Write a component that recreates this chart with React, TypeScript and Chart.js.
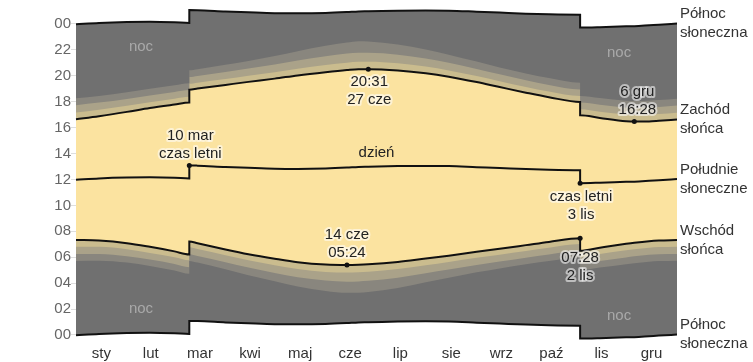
import React, { useEffect, useRef } from 'react';
import { Chart, registerables } from 'chart.js';
Chart.register(...registerables);

// ---- data (New York, 2024; local clock time) ----
const MONTHS = ['sty', 'lut', 'mar', 'kwi', 'maj', 'cze', 'lip', 'sie', 'wrz', 'paź', 'lis', 'gru'];
const MONTH_STARTS = [0, 31, 60, 91, 121, 152, 182, 213, 244, 274, 305, 335, 366];
const Y_TICKS = [0, 2, 4, 6, 8, 10, 12, 14, 16, 18, 20, 22, 24];

// day of year (0 = 1 Jan); 69 and 307 appear twice (clock change)
const DAY = [0, 14, 31, 45, 60, 69, 69, 74, 91, 105, 121, 135, 152, 165, 172, 178, 196, 213, 227, 244, 258, 274, 288, 307, 307, 319, 335, 340, 349, 355, 366];

const MIDNIGHT_LOW = [-0.02, 0.08, 0.15, 0.17, 0.13, 0.08, 1.08, 1.07, 0.97, 0.9, 0.83, 0.82, 0.85, 0.92, 0.97, 0.98, 1.03, 1.05, 1.03, 0.95, 0.88, 0.8, 0.75, 0.72, -0.28, -0.25, -0.18, -0.17, -0.1, -0.05, 0.03];
const ASTRO_DAWN = ['05:43', '05:44', '05:35', '05:19', '04:58', '04:43', '05:43', '05:35', '05:04', '04:37', '04:09', '03:45', '03:24', '03:15', '03:15', '03:19', '03:38', '04:04', '04:25', '04:50', '05:08', '05:27', '05:42', '05:59', '05:00', '05:12', '05:28', '05:32', '05:39', '05:42', '05:44'];
const NAUT_DAWN = ['06:15', '06:15', '06:05', '05:49', '05:29', '05:14', '06:14', '06:06', '05:37', '05:12', '04:47', '04:27', '04:12', '04:07', '04:08', '04:11', '04:25', '04:46', '05:03', '05:24', '05:40', '05:58', '06:13', '06:30', '05:31', '05:43', '05:59', '06:04', '06:11', '06:14', '06:15'];
const CIVIL_DAWN = ['06:49', '06:48', '06:37', '06:20', '06:00', '05:46', '06:46', '06:38', '06:09', '05:46', '05:23', '05:06', '04:52', '04:49', '04:50', '04:53', '05:05', '05:23', '05:38', '05:57', '06:12', '06:29', '06:44', '07:01', '06:02', '06:15', '06:32', '06:37', '06:44', '06:47', '06:49'];
const SUNRISE = ['07:20', '07:17', '07:05', '06:48', '06:27', '06:13', '07:13', '07:05', '06:36', '06:14', '05:53', '05:37', '05:26', '05:24', '05:25', '05:27', '05:38', '05:54', '06:07', '06:25', '06:39', '06:56', '07:11', '07:28', '06:30', '06:44', '07:02', '07:07', '07:14', '07:17', '07:20'];
const SOLAR_NOON = ['11:59', '12:05', '12:09', '12:10', '12:08', '12:05', '13:05', '13:04', '12:58', '12:54', '12:50', '12:49', '12:51', '12:55', '12:58', '12:59', '13:02', '13:03', '13:02', '12:57', '12:53', '12:48', '12:45', '12:43', '11:43', '11:45', '11:49', '11:50', '11:54', '11:57', '12:02'];
const SUNSET = ['16:39', '16:53', '17:13', '17:31', '17:47', '17:56', '18:56', '19:01', '19:18', '19:32', '19:47', '20:02', '20:17', '20:27', '20:31', '20:31', '20:25', '20:12', '19:56', '19:31', '19:08', '18:42', '18:21', '17:59', '16:57', '16:45', '16:30', '16:28', '16:29', '16:32', '16:38'];
const CIVIL_DUSK = ['17:10', '17:23', '17:41', '17:58', '18:14', '18:23', '19:23', '19:28', '19:45', '20:00', '20:17', '20:33', '20:50', '21:01', '21:05', '21:05', '20:58', '20:43', '20:25', '19:59', '19:35', '19:08', '18:47', '18:26', '17:25', '17:14', '17:01', '16:59', '17:00', '17:03', '17:09'];
const NAUT_DUSK = ['17:44', '17:56', '18:13', '18:29', '18:45', '18:54', '19:54', '19:59', '20:18', '20:34', '20:53', '21:11', '21:31', '21:43', '21:47', '21:47', '21:38', '21:20', '21:00', '20:32', '20:07', '19:40', '19:18', '18:57', '17:56', '17:46', '17:33', '17:32', '17:34', '17:36', '17:43'];
const ASTRO_DUSK = ['18:16', '18:27', '18:44', '19:00', '19:16', '19:26', '20:26', '20:31', '20:51', '21:09', '21:32', '21:54', '22:19', '22:34', '22:40', '22:39', '22:25', '22:02', '21:38', '21:06', '20:39', '20:11', '19:50', '19:28', '18:27', '18:17', '18:05', '18:03', '18:05', '18:08', '18:14'];
const MIDNIGHT_HIGH = [23.98, 24.08, 24.15, 24.17, 24.13, 24.08, 25.08, 25.07, 24.97, 24.9, 24.83, 24.82, 24.85, 24.92, 24.97, 24.98, 25.03, 25.05, 25.03, 24.95, 24.88, 24.8, 24.75, 24.72, 23.72, 23.75, 23.82, 23.83, 23.9, 23.95, 24.03];

// ---- styling ----
const FONT = '"Liberation Sans", Arial, sans-serif';
const C_NIGHT = '#707070';
const C_ASTRO = '#89867e';
const C_NAUT = '#aaa289';
const C_CIVIL = '#cabc8e';
const C_DAY = '#fbe3a0';
const C_WHITE = '#ffffff';
const C_LINE = '#111111';
const GRID = 'rgba(0,0,0,0.13)';

const toH = (s: string) => {
  const [h, m] = s.split(':').map(Number);
  return h + m / 60;
};
const series = (vals: number[]) => DAY.map((d, i) => ({ x: d, y: vals[i] }));

const S = {
  low: MIDNIGHT_LOW,
  astroDawn: ASTRO_DAWN.map(toH),
  nautDawn: NAUT_DAWN.map(toH),
  civilDawn: CIVIL_DAWN.map(toH),
  sunrise: SUNRISE.map(toH),
  noon: SOLAR_NOON.map(toH),
  sunset: SUNSET.map(toH),
  civilDusk: CIVIL_DUSK.map(toH),
  nautDusk: NAUT_DUSK.map(toH),
  astroDusk: ASTRO_DUSK.map(toH),
  high: MIDNIGHT_HIGH,
};

// annotated points: [series key, index in DAY]
const MARKS: { key: keyof typeof S; i: number; lines: string[]; dy: number[]; dx: number }[] = [
  { key: 'noon', i: 6, lines: ['10 mar', 'czas letni'], dy: [-30, -12], dx: 1 },
  { key: 'sunset', i: 15, lines: ['20:31', '27 cze'], dy: [13, 31], dx: 1 },
  { key: 'sunrise', i: 13, lines: ['14 cze', '05:24'], dy: [-30, -12], dx: 0 },
  { key: 'sunset', i: 27, lines: ['6 gru', '16:28'], dy: [-30, -12], dx: 3 },
  { key: 'sunrise', i: 23, lines: ['07:28', '2 lis'], dy: [20, 38], dx: 0 },
  { key: 'noon', i: 24, lines: ['czas letni', '3 lis'], dy: [14, 32], dx: 1 },
];
const FREE_TEXT: { t: string; day: number; h: number; color: string }[] = [
  { t: 'noc', day: 39.6, h: 22.26, color: '#a9a9a9' },
  { t: 'noc', day: 39.6, h: 2.0, color: '#a9a9a9' },
  { t: 'noc', day: 330.7, h: 21.76, color: '#a9a9a9' },
  { t: 'noc', day: 330.7, h: 1.47, color: '#a9a9a9' },
  { t: 'dzień', day: 183, h: 14.04, color: '#222222' },
];
const RIGHT_LABELS: { key: keyof typeof S; lines: string[] }[] = [
  { key: 'high', lines: ['Północ', 'słoneczna'] },
  { key: 'sunset', lines: ['Zachód', 'słońca'] },
  { key: 'noon', lines: ['Południe', 'słoneczne'] },
  { key: 'sunrise', lines: ['Wschód', 'słońca'] },
  { key: 'low', lines: ['Północ', 'słoneczna'] },
];

const overlay = {
  id: 'overlay',
  afterDraw(chart: any) {
    const { ctx, scales } = chart;
    const x = scales.x;
    const y = scales.y;
    ctx.save();
    ctx.font = `15px ${FONT}`;
    ctx.textBaseline = 'middle';
    ctx.textAlign = 'center';
    for (const f of FREE_TEXT) {
      ctx.fillStyle = f.color;
      ctx.fillText(f.t, x.getPixelForValue(f.day), y.getPixelForValue(f.h));
    }
    ctx.lineJoin = 'round';
    for (const m of MARKS) {
      const px = x.getPixelForValue(DAY[m.i]) + m.dx;
      const py = y.getPixelForValue(S[m.key][m.i]);
      m.lines.forEach((t, k) => {
        ctx.strokeStyle = 'rgba(255,255,255,0.55)';
        ctx.lineWidth = 4;
        ctx.strokeText(t, px, py + m.dy[k]);
        ctx.fillStyle = '#222222';
        ctx.fillText(t, px, py + m.dy[k]);
      });
    }
    ctx.textAlign = 'left';
    ctx.fillStyle = '#333333';
    const last = DAY.length - 1;
    for (const r of RIGHT_LABELS) {
      const py = y.getPixelForValue(S[r.key][last]);
      ctx.fillText(r.lines[0], chart.chartArea.right + 3, py - 9.5);
      ctx.fillText(r.lines[1], chart.chartArea.right + 3, py + 9.5);
    }
    ctx.restore();
  },
};

export default function App() {
  const ref = useRef<HTMLCanvasElement>(null);
  useEffect(() => {
    if (!ref.current) return;
    Chart.defaults.font.family = FONT;
    // each band is painted as a layer filled to the top ('end') or bottom ('start');
    // the filler paints higher dataset indexes first, so layers are listed top-most first
    const layer = (label: string, vals: number[], fill: string | false, bg: string | null, border: boolean) => ({
      type: 'line' as const,
      label,
      data: series(vals),
      borderColor: border ? C_LINE : 'rgba(0,0,0,0)',
      borderWidth: border ? 2 : 0,
      backgroundColor: bg || 'rgba(0,0,0,0)',
      fill,
      pointRadius: 0,
      cubicInterpolationMode: 'monotone' as const,
      clip: false as const,
    });
    const markerData = MARKS.map((m) => ({ x: DAY[m.i], y: S[m.key][m.i] }));
    const chart = new Chart(ref.current, {
      type: 'line',
      data: {
        datasets: [
          {
            type: 'scatter' as const,
            label: 'marks',
            data: markerData,
            pointRadius: 2.5,
            pointBackgroundColor: '#111',
            pointBorderWidth: 0,
            showLine: false,
            clip: false as const,
          } as any,
          layer('noon', S.noon, false, null, true),
          layer('midLow', S.low, 'start', C_WHITE, true),
          layer('astroDawn', S.astroDawn, 'start', C_NIGHT, false),
          layer('nautDawn', S.nautDawn, 'start', C_ASTRO, false),
          layer('civilDawn', S.civilDawn, 'start', C_NAUT, false),
          layer('sunriseLow', S.sunrise, 'start', C_CIVIL, false),
          layer('midHigh', S.high, 'end', C_WHITE, true),
          layer('astroDusk', S.astroDusk, 'end', C_NIGHT, false),
          layer('nautDusk', S.nautDusk, 'end', C_ASTRO, false),
          layer('civilDusk', S.civilDusk, 'end', C_NAUT, false),
          layer('sunset', S.sunset, 'end', C_CIVIL, true),
          layer('sunrise', S.sunrise, 'end', C_DAY, true),
        ],
      },
      options: {
        animation: false,
        responsive: false,
        devicePixelRatio: 1,
        layout: { padding: { top: 10, right: 76, left: 0, bottom: 0 } },
        plugins: {
          legend: { display: false },
          tooltip: { enabled: false },
          filler: { drawTime: 'beforeDatasetsDraw', propagate: false },
        } as any,
        scales: {
          x: {
            type: 'linear',
            min: 0,
            max: 366,
            z: 1,
            afterBuildTicks: (s: any) => {
              const t: { value: number }[] = [];
              MONTH_STARTS.forEach((d, i) => {
                t.push({ value: d });
                if (i < MONTHS.length) t.push({ value: (d + MONTH_STARTS[i + 1]) / 2 });
              });
              s.ticks = t;
            },
            afterFit: (s: any) => {
              s.height = 19;
            },
            border: { display: false },
            grid: {
              drawTicks: false,
              color: (c: any) =>
                c.index % 2 === 0 && c.tick && c.tick.value > 0 && c.tick.value < 366 ? GRID : 'rgba(0,0,0,0)',
            },
            ticks: {
              autoSkip: false,
              maxRotation: 0,
              minRotation: 0,
              padding: 2,
              color: '#333333',
              font: { size: 15, family: FONT },
              callback: (_v: any, i: number) => (i % 2 === 1 ? MONTHS[(i - 1) / 2] : ''),
            },
          },
          y: {
            type: 'linear',
            min: -0.62,
            max: 25.08,
            z: 1,
            afterBuildTicks: (s: any) => {
              s.ticks = Y_TICKS.map((v) => ({ value: v }));
            },
            afterFit: (s: any) => {
              s.width = 76;
            },
            border: { display: false },
            grid: { color: GRID, tickLength: 5 },
            ticks: {
              padding: 0,
              color: '#666666',
              font: { size: 15, family: FONT },
              callback: (v: any) => String(Number(v) % 24).padStart(2, '0'),
            },
          },
        },
      } as any,
      plugins: [overlay],
    });
    return () => chart.destroy();
  }, []);
  return (
    <div style={{ position: 'fixed', left: 0, top: 0, width: 753, height: 362, background: '#fff' }}>
      <canvas ref={ref} width={753} height={362} style={{ width: 753, height: 362, display: 'block' }} />
    </div>
  );
}
